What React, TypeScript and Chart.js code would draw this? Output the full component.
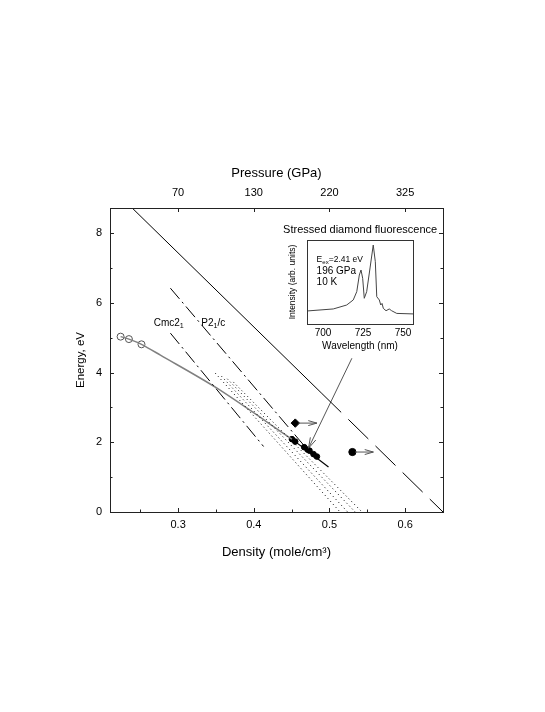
import React, { useEffect, useRef } from 'react';
import { Chart, registerables } from 'chart.js';

Chart.register(...registerables);

const FONT = '"Liberation Sans", Arial, Helvetica, sans-serif';

// ---- axes ----
const densityTicks = [0.3, 0.4, 0.5, 0.6];
const densityMinorTicks = [0.25, 0.35, 0.45, 0.55];
const pressureTickLabels = ['70', '130', '220', '325'];
const energyTicks = [0, 2, 4, 6, 8];
const energyMinorTicks = [1, 3, 5, 7];

// ---- main plot lines / points ----
const solidLineX = [0.2393, 0.489];
const solidLineY = [8.72, 3.42];
const dashedLineX = [0.489, 0.65];
const dashedLineY = [3.42, 0];
const p21cX = [0.2898, 0.4811];
const p21cY = [6.42, 1.53];
const cmc21X = [0.2898, 0.4129];
const cmc21Y = [5.13, 1.88];
const grayCurveX = [0.224, 0.235, 0.2516, 0.2766, 0.3514, 0.4504];
const grayCurveY = [5.03, 4.96, 4.81, 4.5, 3.55, 2.09];
const openCircleX = [0.224, 0.235, 0.2516];
const openCircleY = [5.03, 4.96, 4.81];
const blackSegX = [0.4504, 0.4987];
const blackSegY = [2.09, 1.29];
const blackPointsX = [0.4504, 0.4547, 0.4666, 0.471, 0.4736, 0.4789, 0.4834];
const blackPointsY = [2.09, 2.02, 1.86, 1.79, 1.76, 1.66, 1.59];
const diamondX = [0.4548];
const diamondY = [2.55];
const diamondArrowX = [0.459, 0.4834];
const diamondArrowY = [2.55, 2.55];
const circleX = [0.5303];
const circleY = [1.72];
const circleArrowX = [0.5339, 0.558];
const circleArrowY = [1.72, 1.72];
const calloutX = [0.5296, 0.4723];
const calloutY = [4.41, 1.83];
const dottedStartX = [0.3492, 0.3571, 0.365, 0.3729];
const dottedStartY = [3.98, 3.9, 3.82, 3.73];
const dottedEndX = [0.514, 0.524, 0.534, 0.543];
const dottedEndY = [0, 0, 0, 0];

// ---- inset spectrum ----
const insetWaveTicks = [700, 725, 750];
const insetWavelength = [690, 706.4, 714.8, 718.9, 721.1, 722.7, 723.75, 724.8, 725.8, 727.3, 729.4, 731.4, 732.7, 733.6, 735.2, 736.1, 736.9, 737.7, 739.4, 741.4, 742.9, 746.1, 756.25];
const insetIntensity = [0.155, 0.179, 0.226, 0.286, 0.385, 0.583, 0.643, 0.544, 0.306, 0.385, 0.667, 0.94, 0.742, 0.325, 0.286, 0.226, 0.245, 0.186, 0.158, 0.179, 0.158, 0.126, 0.12];

const pts = (xs: number[], ys: number[]) => xs.map((x, i) => ({ x, y: ys[i] }));

type Part = { t: string; sub?: boolean };

function drawRich(ctx: CanvasRenderingContext2D, parts: Part[], x: number, y: number, size: number, align: 'left' | 'center') {
  const subSize = size * 0.72;
  let total = 0;
  parts.forEach((p) => {
    ctx.font = `${p.sub ? subSize : size}px ${FONT}`;
    total += ctx.measureText(p.t).width;
  });
  let cx = align === 'center' ? x - total / 2 : x;
  ctx.textAlign = 'left';
  ctx.textBaseline = 'middle';
  parts.forEach((p) => {
    ctx.font = `${p.sub ? subSize : size}px ${FONT}`;
    ctx.fillText(p.t, cx, p.sub ? y + size * 0.3 : y);
    cx += ctx.measureText(p.t).width;
  });
}

function arrowHead(ctx: CanvasRenderingContext2D, x1: number, y1: number, x2: number, y2: number, len: number, spread: number) {
  const ang = Math.atan2(y2 - y1, x2 - x1);
  ctx.beginPath();
  ctx.moveTo(x2 - len * Math.cos(ang - spread), y2 - len * Math.sin(ang - spread));
  ctx.lineTo(x2, y2);
  ctx.lineTo(x2 - len * Math.cos(ang + spread), y2 - len * Math.sin(ang + spread));
  ctx.stroke();
}

const mainDecor = {
  id: 'mainDecor',
  afterDraw(chart: any) {
    const { ctx, chartArea: a, scales } = chart;
    const xs = scales.x;
    const ys = scales.y;
    ctx.save();
    ctx.strokeStyle = '#222';
    ctx.lineWidth = 1;
    ctx.strokeRect(a.left + 0.5, a.top + 0.5, a.right - a.left, a.bottom - a.top);
    const tick = (x1: number, y1: number, x2: number, y2: number) => {
      ctx.beginPath();
      ctx.moveTo(x1, y1);
      ctx.lineTo(x2, y2);
      ctx.stroke();
    };
    densityTicks.forEach((v) => {
      const px = Math.round(xs.getPixelForValue(v)) + 0.5;
      tick(px, a.bottom, px, a.bottom - 4);
      tick(px, a.top, px, a.top + 4);
    });
    densityMinorTicks.forEach((v) => {
      const px = Math.round(xs.getPixelForValue(v)) + 0.5;
      tick(px, a.bottom, px, a.bottom - 2.5);
    });
    energyTicks.forEach((v) => {
      const py = Math.round(ys.getPixelForValue(v)) + 0.5;
      tick(a.left, py, a.left + 4, py);
      tick(a.right, py, a.right - 4, py);
    });
    energyMinorTicks.forEach((v) => {
      const py = Math.round(ys.getPixelForValue(v)) + 0.5;
      tick(a.left, py, a.left + 2.5, py);
      tick(a.right, py, a.right - 2.5, py);
    });
    // arrowheads
    chart.data.datasets.forEach((ds: any, i: number) => {
      if (!ds.arrowHead) return;
      const meta = chart.getDatasetMeta(i);
      const n = meta.data.length;
      const p1 = meta.data[n - 2];
      const p2 = meta.data[n - 1];
      ctx.strokeStyle = ds.borderColor;
      ctx.lineWidth = 1;
      arrowHead(ctx, p1.x, p1.y, p2.x, p2.y, ds.arrowLen || 9, 0.28);
    });
    // texts
    ctx.fillStyle = '#000';
    drawRich(ctx, [{ t: 'Stressed diamond fluorescence' }], xs.getPixelForValue(0.5405), ys.getPixelForValue(8.09), 11, 'center');
    drawRich(ctx, [{ t: 'Cmc2' }, { t: '1', sub: true }], xs.getPixelForValue(0.2876), ys.getPixelForValue(5.42), 10, 'center');
    drawRich(ctx, [{ t: 'P2' }, { t: '1', sub: true }, { t: '/c' }], xs.getPixelForValue(0.3465), ys.getPixelForValue(5.42), 10, 'center');
    ctx.restore();
  },
};

const insetDecor = {
  id: 'insetDecor',
  afterDraw(chart: any) {
    const { ctx, chartArea: a, scales } = chart;
    const xs = scales.x;
    const ys = scales.y;
    ctx.save();
    ctx.strokeStyle = '#333';
    ctx.lineWidth = 1;
    ctx.strokeRect(a.left + 0.5, a.top + 0.5, a.right - a.left, a.bottom - a.top);
    ctx.fillStyle = '#000';
    const x0 = xs.getPixelForValue(696);
    drawRich(ctx, [{ t: 'E' }, { t: 'ex', sub: true }, { t: '=2.41 eV' }], x0, ys.getPixelForValue(0.77), 8.5, 'left');
    drawRich(ctx, [{ t: '196 GPa' }], x0, ys.getPixelForValue(0.63), 10, 'left');
    drawRich(ctx, [{ t: '10 K' }], x0, ys.getPixelForValue(0.5), 10, 'left');
    ctx.restore();
  },
};

const lineDs = (data: any[], opts: any = {}) => ({
  data,
  showLine: true,
  pointRadius: 0,
  borderColor: '#000',
  borderWidth: 1,
  fill: false,
  ...opts,
});

export default function App() {
  const mainRef = useRef<HTMLCanvasElement>(null);
  const insetRef = useRef<HTMLCanvasElement>(null);

  useEffect(() => {
    Chart.defaults.font.family = FONT;
    Chart.defaults.color = '#000';

    const dashDot = [14, 4, 2, 4];
    const dotted = [1, 3];

    const datasets: any[] = [
      lineDs(pts(solidLineX, solidLineY)),
      lineDs(pts(dashedLineX, dashedLineY), { borderDash: [28, 10] }),
      lineDs(pts(p21cX, p21cY), { borderDash: dashDot }),
      lineDs(pts(cmc21X, cmc21Y), { borderDash: dashDot }),
      ...dottedStartX.map((sx, i) =>
        lineDs(pts([sx, dottedEndX[i]], [dottedStartY[i], dottedEndY[i]]), { borderDash: dotted, borderWidth: 1 })
      ),
      lineDs(pts(grayCurveX, grayCurveY), { borderColor: '#808080', borderWidth: 1.5, tension: 0.3 }),
      {
        data: pts(openCircleX, openCircleY),
        pointRadius: 3.5,
        pointBackgroundColor: '#fff',
        pointBorderColor: '#555',
        pointBorderWidth: 1,
        showLine: false,
      },
      lineDs(pts(blackSegX, blackSegY), { borderWidth: 1.2 }),
      {
        data: pts(blackPointsX, blackPointsY),
        pointRadius: 2.8,
        pointBackgroundColor: '#000',
        pointBorderColor: '#000',
        showLine: false,
      },
      lineDs(pts(diamondArrowX, diamondArrowY), { borderColor: '#555', arrowHead: true }),
      {
        data: pts(diamondX, diamondY),
        pointStyle: 'rectRot',
        pointRadius: 4.2,
        pointBackgroundColor: '#000',
        pointBorderColor: '#000',
        showLine: false,
      },
      lineDs(pts(circleArrowX, circleArrowY), { borderColor: '#555', arrowHead: true }),
      {
        data: pts(circleX, circleY),
        pointRadius: 3.6,
        pointBackgroundColor: '#000',
        pointBorderColor: '#000',
        showLine: false,
      },
      lineDs(pts(calloutX, calloutY), { borderColor: '#555', arrowHead: true, arrowLen: 11 }),
    ];

    const main = new Chart(mainRef.current as HTMLCanvasElement, {
      type: 'scatter',
      data: { datasets },
      options: {
        responsive: false,
        animation: false,
        events: [],
        layout: { padding: { left: 70, right: 102, top: 164, bottom: 152 } },
        plugins: { legend: { display: false }, tooltip: { enabled: false } },
        scales: {
          x: {
            type: 'linear',
            position: 'bottom',
            min: 0.21,
            max: 0.65,
            grid: { display: false, drawTicks: false },
            border: { display: false },
            afterBuildTicks: (s: any) => {
              s.ticks = densityTicks.map((v) => ({ value: v }));
            },
            ticks: { font: { size: 11 }, padding: 6, color: '#000', callback: (v: any) => Number(v).toFixed(1) },
            title: { display: true, text: 'Density (mole/cm³)', font: { size: 13 }, color: '#000', padding: { top: 0, bottom: 0 } },
            afterFit: (s: any) => {
              s.height = 48;
            },
          },
          x2: {
            type: 'linear',
            position: 'top',
            min: 0.21,
            max: 0.65,
            grid: { display: false, drawTicks: false },
            border: { display: false },
            afterBuildTicks: (s: any) => {
              s.ticks = densityTicks.map((v) => ({ value: v }));
            },
            ticks: { font: { size: 11 }, padding: 8, color: '#000', callback: (_v: any, i: number) => pressureTickLabels[i] },
            title: { display: true, text: 'Pressure (GPa)', font: { size: 13 }, color: '#000', padding: { top: 2, bottom: 0 } },
            afterFit: (s: any) => {
              s.height = 44;
            },
          },
          y: {
            type: 'linear',
            position: 'left',
            min: 0,
            max: 8.72,
            grid: { display: false, drawTicks: false },
            border: { display: false },
            afterBuildTicks: (s: any) => {
              s.ticks = energyTicks.map((v) => ({ value: v }));
            },
            ticks: { font: { size: 11 }, padding: 8, color: '#000' },
            title: { display: true, text: 'Energy, eV', font: { size: 11.5 }, color: '#000', padding: { top: 4.2, bottom: 0 } },
            afterFit: (s: any) => {
              s.width = 40;
            },
          },
        },
      } as any,
      plugins: [mainDecor],
    });

    const inset = new Chart(insetRef.current as HTMLCanvasElement, {
      type: 'scatter',
      data: {
        datasets: [
          {
            data: pts(insetWavelength, insetIntensity),
            showLine: true,
            pointRadius: 0,
            borderColor: '#444',
            borderWidth: 1,
          },
        ],
      },
      options: {
        responsive: false,
        animation: false,
        events: [],
        layout: { padding: { left: 0, right: 5, top: 4, bottom: 4 } },
        plugins: { legend: { display: false }, tooltip: { enabled: false } },
        scales: {
          x: {
            type: 'linear',
            min: 690,
            max: 756.25,
            grid: { display: false, drawTicks: false },
            border: { display: false },
            afterBuildTicks: (s: any) => {
              s.ticks = insetWaveTicks.map((v) => ({ value: v }));
            },
            ticks: { font: { size: 10 }, padding: 3, color: '#000' },
            title: { display: true, text: 'Wavelength (nm)', font: { size: 10 }, color: '#000', padding: { top: 0, bottom: 2 } },
            afterFit: (s: any) => {
              s.height = 30;
            },
          },
          y: {
            type: 'linear',
            min: 0,
            max: 1,
            grid: { display: false, drawTicks: false },
            border: { display: false },
            ticks: { display: false },
            title: { display: true, text: 'Intensity (arb. units)', font: { size: 8.5 }, color: '#000', padding: { top: 3.9, bottom: 0 } },
            afterFit: (s: any) => {
              s.width = 23;
            },
          },
        },
      } as any,
      plugins: [insetDecor],
    });

    return () => {
      main.destroy();
      inset.destroy();
    };
  }, []);

  return (
    <div style={{ position: 'absolute', left: 0, top: 0, width: 545, height: 712, background: '#fff' }}>
      <canvas ref={mainRef} width={545} height={712} style={{ position: 'absolute', left: 0, top: 0, width: 545, height: 712 }} />
      <canvas ref={insetRef} width={134} height={122} style={{ position: 'absolute', left: 284, top: 236, width: 134, height: 122 }} />
    </div>
  );
}
